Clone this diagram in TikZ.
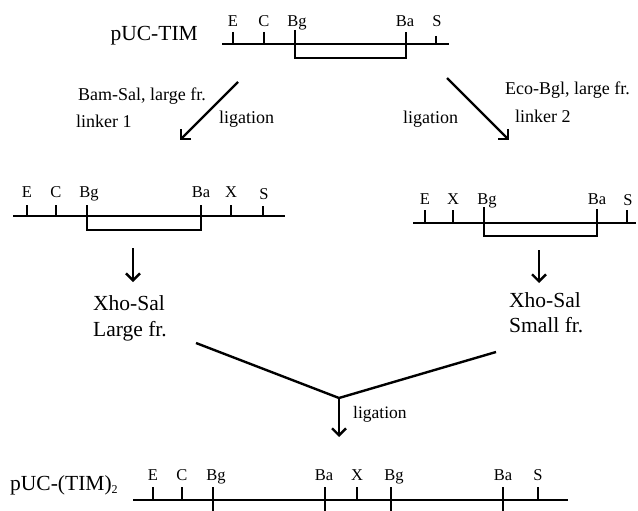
\documentclass[tikz,border=0pt]{standalone}
\usepackage{fontspec}
\setmainfont{Liberation Serif}
\usetikzlibrary{arrows.meta}
\tikzset{
  dna/.style={line width=2pt},
  tick/.style={line width=1.6pt},
  site/.style={font=\fontsize{16.5}{18}\selectfont, anchor=base, inner sep=0pt},
  lbl/.style={font=\fontsize{18}{20}\selectfont, anchor=base west, inner sep=0pt},
  big/.style={font=\fontsize{21.5}{24}\selectfont, anchor=base west, inner sep=0pt},
  title/.style={font=\fontsize{21.5}{24}\selectfont, inner sep=0pt},
  flow/.style={line width=2.4pt, -{Straight Barb[length=7pt,width=14pt,line width=2.4pt]}},
  vline/.style={line width=2.4pt},
}
\begin{document}
\begin{tikzpicture}[x=1pt,y=-1pt]
\useasboundingbox (0,0) rectangle (638,511);

% ---------- top map pUC-TIM ----------
\node[title, anchor=base east] (t1) at (198,41) {pUC-TIM};
\draw[dna] (222,44) -- (449,44);
\draw[tick] (233,32) -- (233,44);
\draw[tick] (264,32) -- (264,44);
\draw[tick] (295,30) -- (295,58) -- (406,58) -- (406,32);
\draw[tick] (436,36) -- (436,44);
\node[site] (tE) at (233,27) {E};
\node[site] (tC) at (264,27) {C};
\node[site] (tBg) at (297,27) {Bg};
\node[site] (tBa) at (405,27) {Ba};
\node[site] (tS) at (437,27) {S};

% ---------- diagonal arrows ----------
\coordinate (la1) at (238,82);
\coordinate (la2) at (180,140);
\coordinate (ra1) at (447,78);
\coordinate (ra2) at (509,140);
\draw[flow] (la1) -- (la2);
\draw[flow] (ra1) -- (ra2);
\node[lbl] (bs) at (78,100) {Bam-Sal, large fr.};
\node[lbl] (l1) at (76,128) {linker 1};
\node[lbl] (lg1) at (219,124) {ligation};
\node[lbl] (eb) at (505,95) {Eco-Bgl, large fr.};
\node[lbl] (l2) at (515,123) {linker 2};
\node[lbl] (lg2) at (403,124) {ligation};

% ---------- left middle map ----------
\draw[dna] (13,216) -- (285,216);
\draw[tick] (27,205) -- (27,216);
\draw[tick] (56,205) -- (56,216);
\draw[tick] (87,205) -- (87,230) -- (201,230) -- (201,205);
\draw[tick] (231,205) -- (231,216);
\draw[tick] (263,206) -- (263,216);
\node[site] (mE) at (27,197) {E};
\node[site] (mC) at (56,197) {C};
\node[site] (mBg) at (89,197) {Bg};
\node[site] (mBa) at (201,197) {Ba};
\node[site] (mX) at (231,197) {X};
\node[site] (mS) at (264,199) {S};

% ---------- right middle map ----------
\draw[dna] (413,223) -- (636,223);
\draw[tick] (425,210) -- (425,223);
\draw[tick] (453,210) -- (453,223);
\draw[tick] (484,207) -- (484,236) -- (597,236) -- (597,209);
\draw[tick] (627,210) -- (627,223);
\node[site] (nE) at (425,204) {E};
\node[site] (nX) at (453,204) {X};
\node[site] (nBg) at (487,204) {Bg};
\node[site] (nBa) at (597,204) {Ba};
\node[site] (nS) at (628,205) {S};

% ---------- down arrows ----------
\coordinate (d1a) at (133,248);
\coordinate (d1b) at (133,282);
\coordinate (d2a) at (539,250);
\coordinate (d2b) at (539,283);
\draw[flow] (d1a) -- (d1b);
\draw[flow] (d2a) -- (d2b);
\node[big] (x1) at (93,310) {Xho-Sal};
\node[big] (x1b) at (93,336) {Large fr.};
\node[big] (x2) at (509,307) {Xho-Sal};
\node[big] (x2b) at (509,332) {Small fr.};

% ---------- V and final arrow ----------
\coordinate (v1) at (196,343);
\coordinate (v2) at (339,398);
\coordinate (v3) at (496,352);
\coordinate (v4) at (339,437);
\draw[vline, line join=miter] (v1) -- (v2) -- (v3);
\draw[flow] (v2) -- (v4);
\node[lbl, font=\fontsize{17.5}{19}\selectfont] (lg3) at (353,418) {ligation};

% ---------- bottom map ----------
\node[title, anchor=base west] (t2) at (10,490) {pUC-(TIM)\raisebox{-3pt}{\fontsize{12}{12}\selectfont 2}};
\draw[dna] (133,500) -- (568,500);
\draw[tick] (153,487) -- (153,500);
\draw[tick] (182,487) -- (182,500);
\draw[tick] (213,487) -- (213,511);
\draw[tick] (325,487) -- (325,511);
\draw[tick] (357,487) -- (357,500);
\draw[tick] (391,487) -- (391,511);
\draw[tick] (503,487) -- (503,511);
\draw[tick] (538,487) -- (538,500);
\node[site] (bE) at (153,480) {E};
\node[site] (bC) at (182,480) {C};
\node[site] (bBg) at (216,480) {Bg};
\node[site] (bBa) at (324,480) {Ba};
\node[site] (bX) at (357,480) {X};
\node[site] (bBg2) at (394,480) {Bg};
\node[site] (bBa2) at (503,480) {Ba};
\node[site] (bS) at (538,480) {S};
\end{tikzpicture}
\end{document}
